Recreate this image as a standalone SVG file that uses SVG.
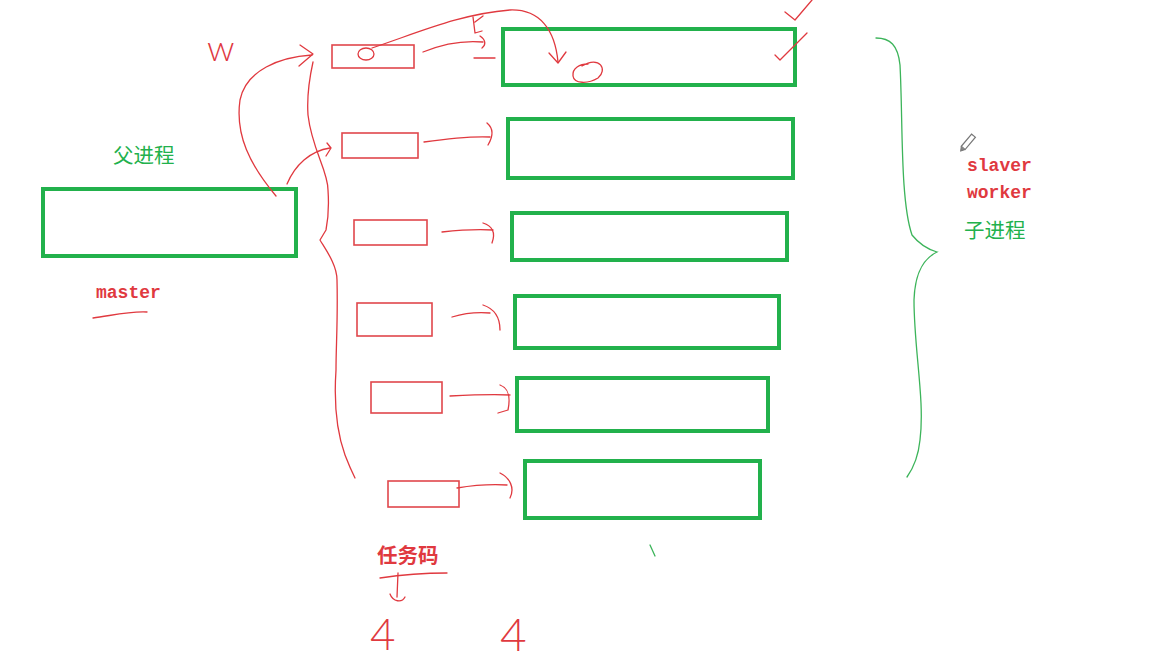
<svg xmlns="http://www.w3.org/2000/svg" width="1161" height="670" viewBox="0 0 1161 670">
<style>
.g{fill:none;stroke:#22b14c;stroke-width:4}
.rb{fill:none;stroke:#e0474c;stroke-width:1.6}
.r{fill:none;stroke:#e0393f;stroke-width:1.3;stroke-linecap:round;stroke-linejoin:round}
.gl{fill:none;stroke:#3cb45a;stroke-width:1.3;stroke-linecap:round}
.cjk{font-family:"Noto Sans CJK SC","Noto Sans",sans-serif;font-size:20.5px}
.mono{font-family:"Liberation Mono",monospace;font-size:18px;font-weight:bold;fill:#e0393f}
.hand{font-family:Lato,"Liberation Sans",sans-serif;font-weight:300;fill:#e0393f}
</style>
<rect width="1161" height="670" fill="#ffffff"/>
<g id="master"><rect class="g" x="43" y="189" width="253" height="67"/></g>
<g id="worker1"><rect class="g" x="503" y="29" width="292" height="56"/></g>
<g id="worker2"><rect class="g" x="508" y="119" width="285" height="59"/></g>
<g id="worker3"><rect class="g" x="512" y="213" width="275" height="47"/></g>
<g id="worker4"><rect class="g" x="515" y="296" width="264" height="52"/></g>
<g id="worker5"><rect class="g" x="517" y="378" width="251" height="53"/></g>
<g id="worker6"><rect class="g" x="525" y="461" width="235" height="57"/></g>
<g id="task1"><rect class="rb" x="332" y="45" width="82" height="23"/></g>
<g id="task2"><rect class="rb" x="342" y="133" width="76" height="25"/></g>
<g id="task3"><rect class="rb" x="354" y="220" width="73" height="25"/></g>
<g id="task4"><rect class="rb" x="357" y="303" width="75" height="33"/></g>
<g id="task5"><rect class="rb" x="371" y="382" width="71" height="31"/></g>
<g id="task6"><rect class="rb" x="388" y="481" width="71" height="26"/></g>
<g id="labels">
<text class="cjk" x="113" y="163" fill="#22b14c">父进程</text>
<text class="mono" x="96" y="298">master</text>
<text class="mono" x="967" y="171">slaver</text>
<text class="mono" x="967" y="198">worker</text>
<text class="cjk" x="964" y="238" fill="#22b14c">子进程</text>
<text class="cjk" x="377" y="563" fill="#e0393f" font-weight="bold">任务码</text>
<text class="hand" x="207" y="61" font-size="36">w</text>
<text class="hand" x="370" y="650" font-size="44">4</text>
<text class="hand" x="500" y="651" font-size="46">4</text>
</g>
<g id="connectors">
<path class="r" d="M313,62 C309,80 307,100 308,115 C312,150 328,170 328,190 C329,205 328,220 326,230 L320,240 C326,250 337,265 337,280 C338,320 336,345 336,370 C334,400 336,430 345,455 C350,468 353,474 355,478"/>
<path class="r" d="M276,196 C250,165 235,135 240,100 C246,70 280,57 312,55"/>
<path class="r" d="M300,45 L313,54 L299,66"/>
<path class="r" d="M287,184 C295,165 310,151 330,148"/>
<path class="r" d="M327,143 L331,148 L326,156"/>
<path class="r" d="M372,48 C420,32 460,14 510,10 C540,9 555,30 558,62"/>
<path class="r" d="M549,53 L558,63 L566,52"/>
<ellipse class="r" cx="366" cy="54" rx="8" ry="6"/>
<path class="r" d="M423,52 C440,45 460,40 483,42"/>
<path class="r" d="M480,36 C486,40 486,45 482,48"/>
<path class="r" d="M473,17 L475,33 L482,31 M475,22 L483,16"/>
<path class="r" d="M474,58 L495,58"/>
<path class="r" d="M582,66 C600,55 608,70 598,78 C588,84 574,84 573,76 C572,68 580,64 588,64"/>
<path class="r" d="M785,12 L795,20 L812,0"/>
<path class="r" d="M775,55 L780,60 L807,33"/>
<path class="r" d="M424,142 C445,139 468,136 490,137"/>
<path class="r" d="M487,123 C493,128 494,135 488,145"/>
<path class="r" d="M442,232 C460,230 478,229 493,230"/>
<path class="r" d="M483,223 C492,226 496,232 492,243"/>
<path class="r" d="M452,317 C465,313 478,312 490,313"/>
<path class="r" d="M483,305 C495,309 500,318 500,330"/>
<path class="r" d="M450,396 C470,395 490,394 510,395"/>
<path class="r" d="M500,385 C508,388 511,395 508,410 L498,413"/>
<path class="r" d="M457,488 C475,485 490,484 507,485"/>
<path class="r" d="M500,473 C510,478 515,488 510,498"/>
<path class="r" d="M93,318 C110,316 128,311 147,312"/>
<path class="r" d="M380,578 C400,575 425,573 447,573"/>
<path class="r" d="M398,573 L397,597"/>
<path class="r" d="M390,594 C393,602 402,603 405,597"/>
<path class="gl" d="M876,38 C890,38 898,45 900,65 C903,120 900,200 912,235 C920,245 930,250 937,252 C925,258 915,270 914,300 C914,350 925,400 920,440 C918,460 912,470 907,477"/>
<path class="gl" d="M650,545 L655,556"/>
</g>
<g id="pencil" transform="translate(969,141) rotate(-50)">
<rect x="-9" y="-2.5" width="16" height="5" fill="#ffffff" stroke="#777777" stroke-width="1.2"/>
<path d="M-9,-2.5 L-13,0 L-9,2.5" fill="#888888" stroke="#777777" stroke-width="1"/>
</g>
</svg>
